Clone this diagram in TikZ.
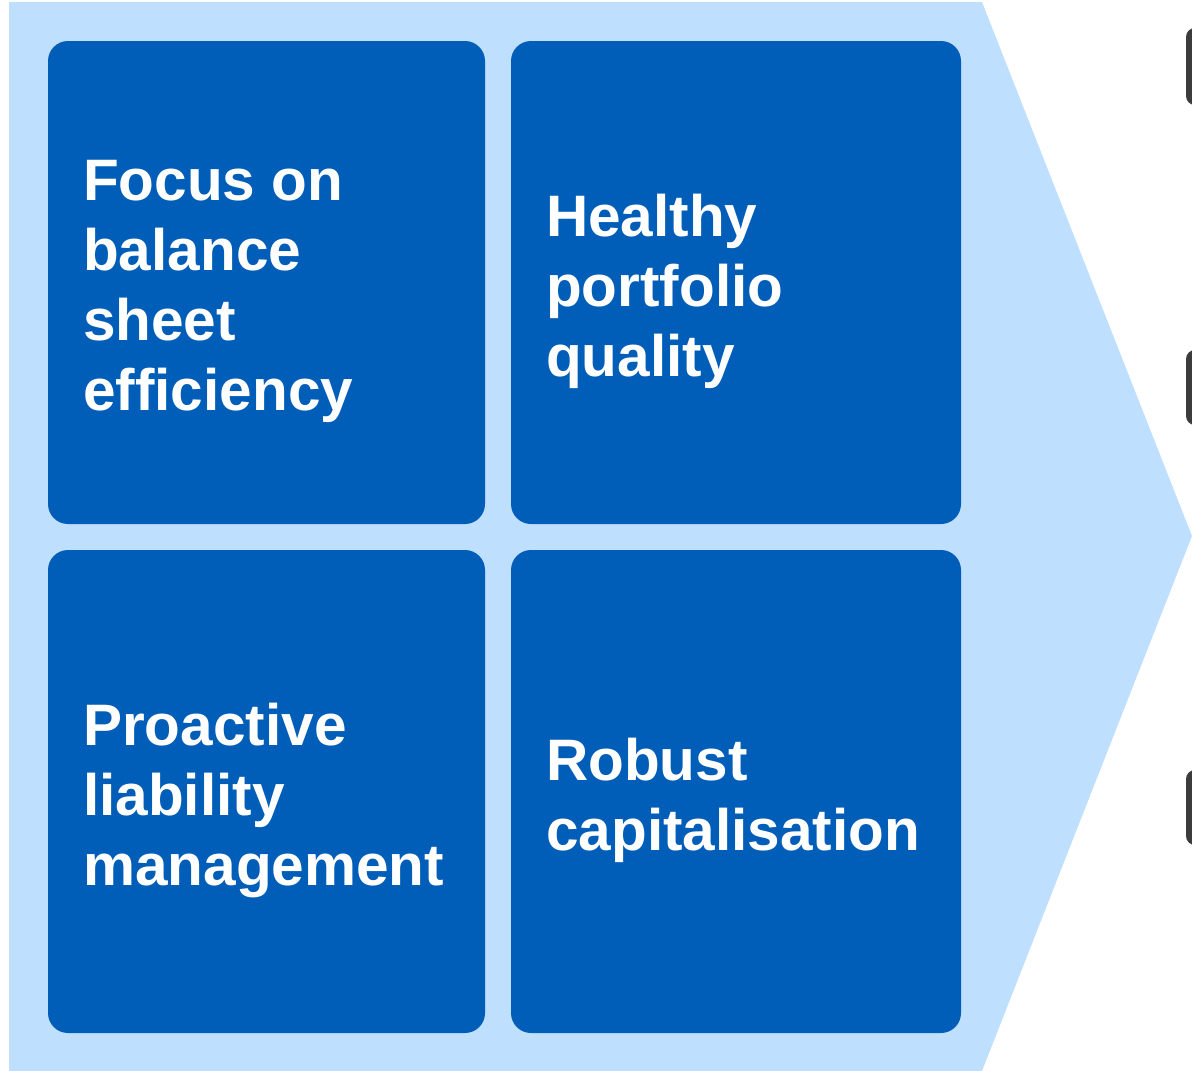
\documentclass[tikz,border=0pt]{standalone}
\usepackage{fontspec}
\setmainfont{Liberation Sans}
\definecolor{lightbg}{HTML}{BFDFFF}
\definecolor{boxblue}{HTML}{005EB8}
\definecolor{tabgray}{HTML}{3C3C3C}
\begin{document}
\begin{tikzpicture}[x=1pt,y=-1pt,
  tile/.style={fill=boxblue,draw=none,rounded corners=20pt},
  tab/.style={fill=tabgray,draw=none,rounded corners=9pt},
  lbl/.style={anchor=base west,inner sep=0pt,text=white,font=\fontsize{58.5}{70}\selectfont\bfseries}]
\useasboundingbox (0,0) rectangle (1192,1071);
\fill[lightbg] (9,2) -- (982,2) -- (1192,536) -- (982,1071) -- (9,1071) -- cycle;
% right-edge tabs
\fill[tab] (1186,28) rectangle (1215,105);
\fill[tab] (1186,350) rectangle (1215,425);
\fill[tab] (1186,770) rectangle (1215,845);
% tiles
\fill[tile] (48,41) rectangle (485,524);
\fill[tile] (511,41) rectangle (961,524);
\fill[tile] (48,550) rectangle (485,1033);
\fill[tile] (511,550) rectangle (961,1033);
% texts
\node[lbl] (a1) at (83,200) {Focus on};
\node[lbl] (a2) at (83,270) {balance};
\node[lbl] (a3) at (83,340) {sheet};
\node[lbl] (a4) at (83,410) {efficiency};
\node[lbl] (b1) at (546,236) {Healthy};
\node[lbl] (b2) at (546,306) {portfolio};
\node[lbl] (b3) at (546,376) {quality};
\node[lbl] (c1) at (83,745) {Proactive};
\node[lbl] (c2) at (83,815) {liability};
\node[lbl] (c3) at (83,885) {management};
\node[lbl] (d1) at (546,780) {Robust};
\node[lbl] (d2) at (546,850) {capitalisation};
\end{tikzpicture}
\end{document}
